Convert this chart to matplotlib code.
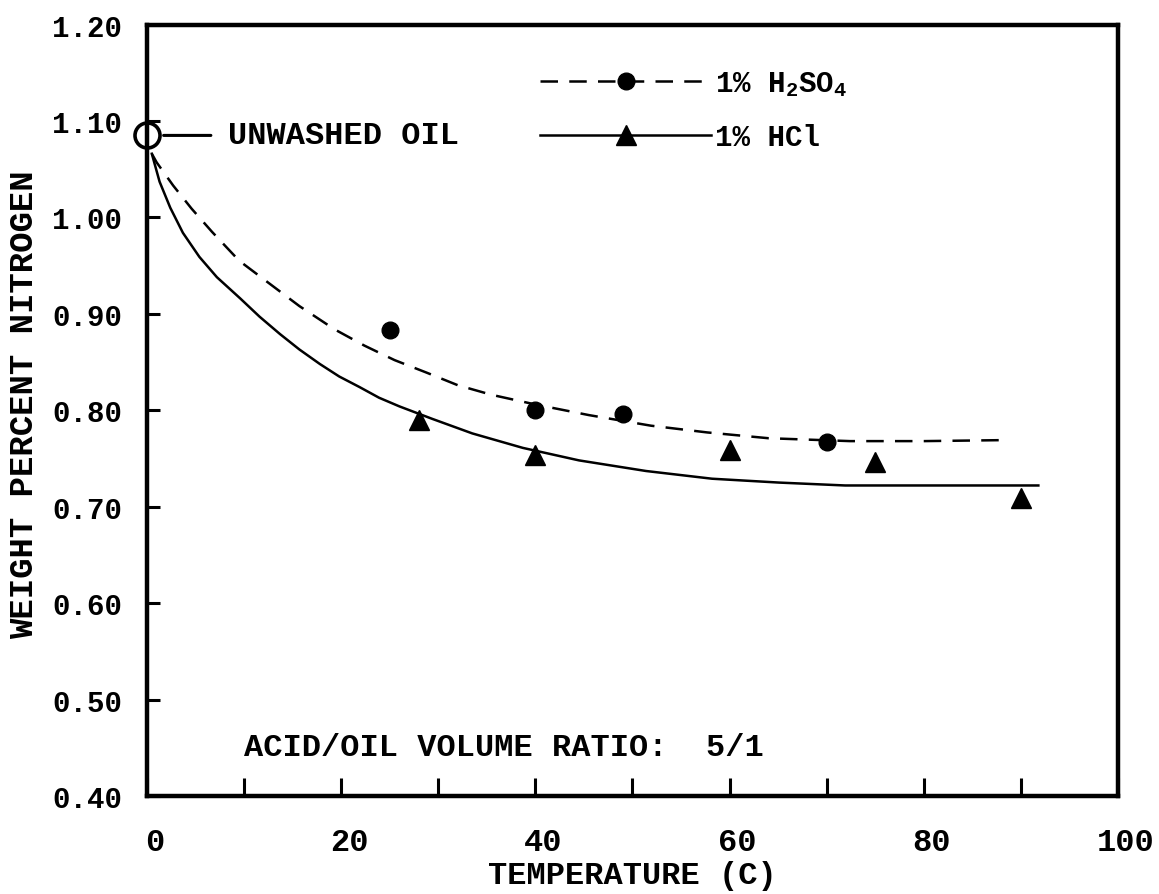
import matplotlib

matplotlib.use("Agg")
import matplotlib.pyplot as plt
import matplotlib.transforms as mtransforms
from matplotlib.lines import Line2D

plt.rcParams["font.family"] = ["Liberation Mono", "DejaVu Sans Mono"]
plt.rcParams["font.weight"] = "bold"
plt.rcParams["axes.labelweight"] = "bold"
plt.rcParams["mathtext.fontset"] = "custom"
plt.rcParams["mathtext.rm"] = "Liberation Mono:bold"
plt.rcParams["mathtext.it"] = "Liberation Mono:bold"
plt.rcParams["mathtext.bf"] = "Liberation Mono:bold"

# measured nitrogen content after acid washing
h2so4_temp = [25, 40, 49, 70]
h2so4_n = [0.883, 0.800, 0.796, 0.767]
hcl_temp = [28, 40, 60, 75, 90]
hcl_n = [0.790, 0.754, 0.759, 0.746, 0.709]
unwashed_temp = [0]
unwashed_n = [1.085]

# hand-drawn trend curves
h2so4_fit_temp = [0.5, 1.0, 2.7, 4.6, 6.7, 9.5, 12.4, 15.7, 19.3, 22.4, 25.5,
                  28.8, 32.0, 35.5, 40.0, 45.5, 51.9, 57.7, 64.0, 72.4, 80.0, 88.0]
h2so4_fit_n = [1.066, 1.057, 1.033, 1.009, 0.985, 0.955, 0.933, 0.908, 0.884,
               0.867, 0.852, 0.839, 0.826, 0.816, 0.806, 0.795, 0.784, 0.777,
               0.771, 0.768, 0.768, 0.769]
hcl_fit_temp = [0.5, 1.3, 2.4, 3.7, 5.4, 7.2, 9.6, 11.6, 13.7, 15.7, 17.8,
                19.8, 21.9, 23.9, 26.0, 29.4, 33.5, 38.7, 44.5, 51.4, 58.2,
                65.1, 71.9, 80.0, 91.8]
hcl_fit_n = [1.066, 1.037, 1.010, 0.984, 0.959, 0.938, 0.916, 0.897, 0.879,
             0.863, 0.848, 0.835, 0.824, 0.813, 0.804, 0.791, 0.776, 0.761,
             0.748, 0.737, 0.729, 0.725, 0.722, 0.722, 0.722]

y_ticks = [0.40, 0.50, 0.60, 0.70, 0.80, 0.90, 1.00, 1.10, 1.20]
x_major = [0, 20, 40, 60, 80, 100]
x_minor = [10, 30, 50, 70, 90]

fig = plt.figure(figsize=(11.59, 8.95), dpi=100)
ax = fig.add_axes([0.1268, 0.1095, 0.8378, 0.862])

dash_style = (7, 4.5)
ax.plot(h2so4_fit_temp, h2so4_fit_n, color="k", lw=1.8, dashes=dash_style)
ax.plot(hcl_fit_temp, hcl_fit_n, color="k", lw=1.8)
ax.plot(h2so4_temp, h2so4_n, "o", color="k", ms=12)
ax.plot(hcl_temp, hcl_n, "^", color="k", ms=14)
ax.plot(unwashed_temp, unwashed_n, "o", mfc="none", mec="k", mew=2.6,
        ms=18, clip_on=False, zorder=5)

ax.annotate("UNWASHED OIL", xy=(unwashed_temp[0], unwashed_n[0]),
            xytext=(8.3, unwashed_n[0]), va="center", ha="left", fontsize=23,
            arrowprops=dict(arrowstyle="-", color="k", lw=2.2,
                            relpos=(0, 0.5), shrinkA=10, shrinkB=12))

ax.text(10, 0.451, "ACID/OIL VOLUME RATIO:  5/1", va="center", ha="left",
        fontsize=23)

ax.set_xlim(0, 100)
ax.set_ylim(0.40, 1.20)

ax.set_yticks(y_ticks)
ax.set_yticklabels([f"{v:.2f}" for v in y_ticks], fontsize=21)
ax.set_xticks(x_major)
ax.set_xticklabels([str(v) for v in x_major], fontsize=23)
ax.set_xticks(x_minor, minor=True)

ax.tick_params(axis="y", direction="in", length=9, width=2.2, pad=18)
ax.tick_params(axis="x", which="both", direction="in", length=13, width=2.2,
               pad=22)

shift = mtransforms.ScaledTranslation(0.08, 0, fig.dpi_scale_trans)
for lab in ax.get_xticklabels():
    lab.set_transform(lab.get_transform() + shift)

for sp in ax.spines.values():
    sp.set_linewidth(3.2)

ax.set_xlabel("TEMPERATURE (C)", fontsize=23)
ax.xaxis.set_label_coords(0.5, -0.083)
ax.set_ylabel("WEIGHT PERCENT NITROGEN", fontsize=24.5)
ax.yaxis.set_label_coords(-0.11, 0.508)

handles = [
    Line2D([], [], color="k", lw=1.8, dashes=dash_style, marker="o", ms=12),
    Line2D([], [], color="k", lw=1.8, marker="^", ms=14),
]
labels = ["1% H$_2$SO$_4$", "1% HCl"]
ax.legend(handles, labels, loc="upper left", bbox_to_anchor=(0.405, 0.942),
          frameon=False, fontsize=21, handlelength=5.85, handletextpad=0.15,
          borderpad=0, borderaxespad=0, labelspacing=0.85, numpoints=1)

fig.savefig("out.png", dpi=100)
